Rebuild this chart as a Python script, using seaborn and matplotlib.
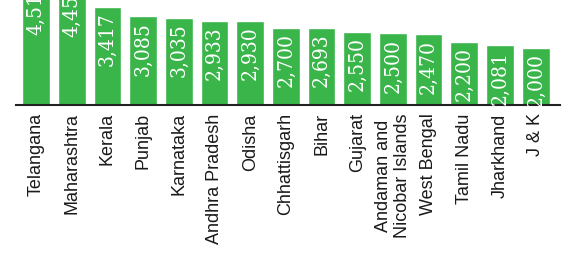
import matplotlib
matplotlib.use("Agg")
import matplotlib.pyplot as plt
import seaborn as sns
import pandas as pd

states = ["Telangana", "Maharashtra", "Kerala", "Punjab", "Karnataka",
          "Andhra Pradesh", "Odisha", "Chhattisgarh", "Bihar", "Gujarat",
          "Andaman and\nNicobar Islands", "West Bengal", "Tamil Nadu",
          "Jharkhand", "J & K"]
values = [4515, 4450, 3417, 3085, 3035, 2933, 2930, 2700, 2693, 2550,
          2500, 2470, 2200, 2081, 2000]

bar_color = "#39b54a"

sns.set_style("white")
plt.rcParams['font.family'] = ['Liberation Sans', 'DejaVu Sans']

df = pd.DataFrame({"state": states, "value": values})

fig = plt.figure(figsize=(5.76, 2.65), dpi=100)
ax = fig.add_axes([0.028, 0.604, 0.944, 0.396])

sns.barplot(data=df, x="state", y="value", color=bar_color, saturation=1,
            width=0.78, ax=ax)

ax.set_ylim(0, 3660)
ax.set_xlim(-0.56, 14.68)

# value labels inside the bars, reading upward
for i, v in enumerate(values):
    ax.annotate(f"{v:,}", (i, v), xytext=(0, -4), textcoords="offset points",
                rotation=90, ha="center", va="top", color="white",
                fontsize=15, family="DejaVu Serif", fontstretch="condensed",
                annotation_clip=False, clip_on=False)

ax.set_xlabel("")
ax.set_ylabel("")
ax.set_yticks([])
ax.tick_params(axis="x", length=0, pad=6, labelsize=13, labelcolor="#1a1a1a")
plt.setp(ax.get_xticklabels(), rotation=90, ha="center", va="top")

for side in ["top", "right", "left"]:
    ax.spines[side].set_visible(False)
ax.spines["bottom"].set_color("#222222")
ax.spines["bottom"].set_linewidth(1.5)

fig.savefig("out.png", dpi=100)
